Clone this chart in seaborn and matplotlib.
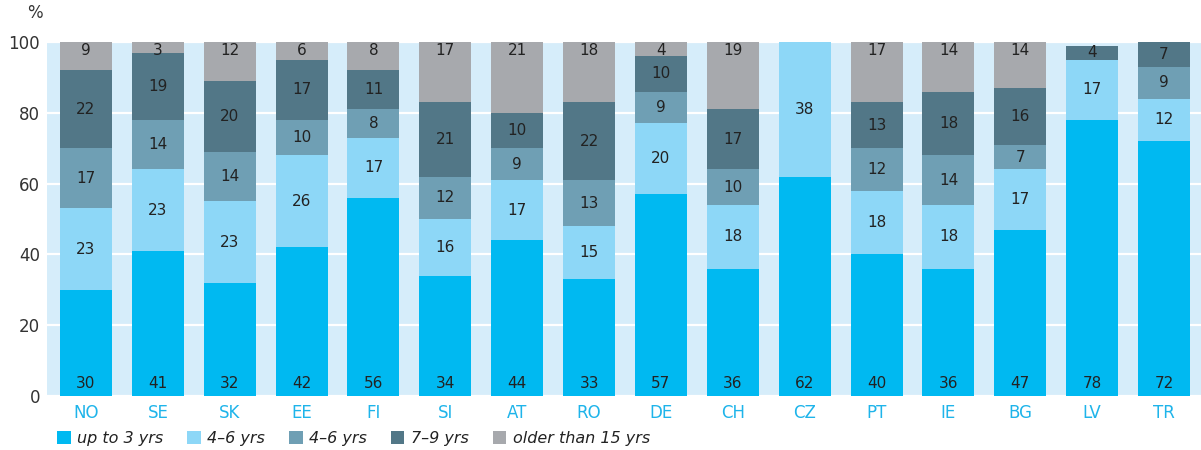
import numpy as np
import matplotlib
matplotlib.use("Agg")
import matplotlib.pyplot as plt
from matplotlib.patches import Patch
import seaborn as sns

# Dados
countries = ["NO", "SE", "SK", "EE", "FI", "SI", "AT", "RO", "DE", "CH", "CZ", "PT", "IE", "BG", "LV", "TR"]
series_names = ["up to 3 yrs", "4–6 yrs", "4–6 yrs", "7–9 yrs", "older than 15 yrs"]
up_to_3 = [30, 41, 32, 42, 56, 34, 44, 33, 57, 36, 62, 40, 36, 47, 78, 72]
yrs_4_6_a = [23, 23, 23, 26, 17, 16, 17, 15, 20, 18, 38, 18, 18, 17, 17, 12]
yrs_4_6_b = [17, 14, 14, 10, 8, 12, 9, 13, 9, 10, 0, 12, 14, 7, 0, 9]
yrs_7_9 = [22, 19, 20, 17, 11, 21, 10, 22, 10, 17, 0, 13, 18, 16, 4, 7]
older_15 = [9, 3, 12, 6, 8, 17, 21, 18, 4, 19, 0, 17, 14, 14, 0, 0]
yticks = [0, 20, 40, 60, 80, 100]

colors = ["#00b9f1", "#8dd7f7", "#6f9fb4", "#527787", "#a7a9ad"]

sns.set_theme(style="white")
plt.rcParams["font.family"] = ["DejaVu Sans"]

series = np.array([up_to_3, yrs_4_6_a, yrs_4_6_b, yrs_7_9, older_15], dtype=float)
cum = np.cumsum(series, axis=0)

fig = plt.figure(figsize=(12.01, 4.5), dpi=100)
ax = fig.add_axes([0.0391, 0.12, 0.9609, 0.7867])
ax.set_facecolor("#d6edfa")

# Barras empilhadas: desenha os totais acumulados do maior para o menor
for i in range(len(series) - 1, -1, -1):
    sns.barplot(x=countries, y=cum[i], color=colors[i], saturation=1, width=0.7235,
                linewidth=0, ax=ax, zorder=2)

# Rótulos dos valores
for j in range(len(countries)):
    for i in range(len(series)):
        v = series[i, j]
        if v <= 0:
            continue
        low = cum[i, j] - v
        if i == 0:
            y = 3.5
        elif i == len(series) - 1:
            y = 97.6
        else:
            y = min((low + cum[i, j]) / 2, 97.3)
        ax.text(j, y, f"{int(v)}", ha="center", va="center", fontsize=11, color="#222222", zorder=3)

ax.set_xlim(-0.543, 15.514)
ax.set_ylim(0, 100)
ax.set_yticks(yticks)
ax.yaxis.grid(True, color="white", linewidth=1.6)
ax.set_axisbelow(True)
for s in ax.spines.values():
    s.set_visible(False)
ax.tick_params(axis="both", length=0)
ax.tick_params(axis="y", pad=5, labelsize=12, labelcolor="#333333")
ax.tick_params(axis="x", pad=6, labelsize=12, labelcolor="#1eb4ea")
ax.set_xlabel("")
ax.set_ylabel("")

fig.text(0.029, 0.972, "%", ha="center", va="center", fontsize=12, color="#333333")

handles = [Patch(facecolor=c, edgecolor="none") for c in colors]
fig.legend(handles, series_names, loc="center left", bbox_to_anchor=(0.0355, 0.026), ncol=5,
           frameon=False, prop={"style": "italic", "size": 11.5}, handlelength=0.85,
           handleheight=0.85, handletextpad=0.4, columnspacing=1.5, labelcolor="#222222")

fig.savefig("out.png", dpi=100)
